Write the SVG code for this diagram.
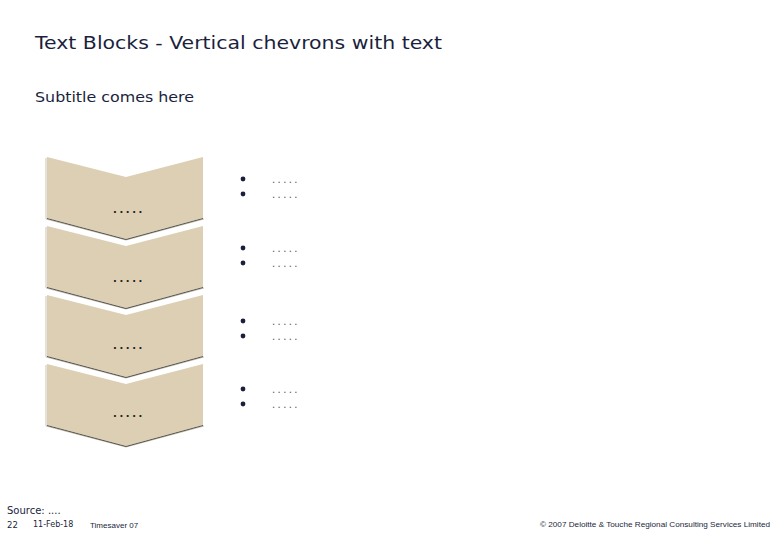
<svg xmlns="http://www.w3.org/2000/svg" width="780" height="540" viewBox="0 0 780 540">
<defs>
<style>
.title{font-family:"DejaVu Sans",Verdana,sans-serif;fill:#1b1f3d}
.chev{fill:#dccfb3}
.shadow{fill:none;stroke:#55524a;stroke-width:1}
.lbl{font-family:"DejaVu Sans",sans-serif;font-size:10px;font-weight:bold;letter-spacing:2.6px;fill:#222}
.bul{fill:#1b1f3d}
.bt{font-family:"DejaVu Sans",sans-serif;font-size:10px;letter-spacing:2.4px;fill:#555}
.foot{font-family:"DejaVu Sans",sans-serif;fill:#1b1f3d}
</style>
<path id="chevShape" d="M47,0 L126,20 L203,0 L203,61 L126,82 L47,61 Z"/>
</defs>
<rect width="780" height="540" fill="#ffffff"/>
<text class="title" x="35" y="49" font-size="18.5" textLength="407" lengthAdjust="spacingAndGlyphs">Text Blocks - Vertical chevrons with text</text>
<text class="title" x="35" y="102" font-size="14.5" textLength="159" lengthAdjust="spacingAndGlyphs">Subtitle comes here</text>

<g id="chevron1" transform="translate(0,157)">
<path d="M46,1 L46,62 L126,83 L204,62" fill="none" stroke="#c9c3b6" stroke-width="1"/>
<use href="#chevShape" class="chev"/>
<path class="shadow" d="M47,61.5 L126,82.5 L203,61.5"/>
<text class="lbl" x="113" y="56">.....</text>
</g>
<g id="chevron2" transform="translate(0,226)">
<path d="M46,1 L46,62 L126,83 L204,62" fill="none" stroke="#c9c3b6" stroke-width="1"/>
<use href="#chevShape" class="chev"/>
<path class="shadow" d="M47,61.5 L126,82.5 L203,61.5"/>
<text class="lbl" x="113" y="56">.....</text>
</g>
<g id="chevron3" transform="translate(0,295)">
<path d="M46,1 L46,62 L126,83 L204,62" fill="none" stroke="#c9c3b6" stroke-width="1"/>
<use href="#chevShape" class="chev"/>
<path class="shadow" d="M47,61.5 L126,82.5 L203,61.5"/>
<text class="lbl" x="113" y="54">.....</text>
</g>
<g id="chevron4" transform="translate(0,364)">
<path d="M46,1 L46,62 L126,83 L204,62" fill="none" stroke="#c9c3b6" stroke-width="1"/>
<use href="#chevShape" class="chev"/>
<path class="shadow" d="M47,61.5 L126,82.5 L203,61.5"/>
<text class="lbl" x="113" y="53">.....</text>
</g>

<g id="bullets1">
<circle class="bul" cx="243" cy="179" r="2.4"/><text class="bt" x="272" y="183">.....</text>
<circle class="bul" cx="243" cy="194" r="2.4"/><text class="bt" x="272" y="198">.....</text>
</g>
<g id="bullets2">
<circle class="bul" cx="243" cy="248" r="2.4"/><text class="bt" x="272" y="252">.....</text>
<circle class="bul" cx="243" cy="263" r="2.4"/><text class="bt" x="272" y="267">.....</text>
</g>
<g id="bullets3">
<circle class="bul" cx="243" cy="321" r="2.4"/><text class="bt" x="272" y="325">.....</text>
<circle class="bul" cx="243" cy="336" r="2.4"/><text class="bt" x="272" y="340">.....</text>
</g>
<g id="bullets4">
<circle class="bul" cx="243" cy="389" r="2.4"/><text class="bt" x="272" y="393">.....</text>
<circle class="bul" cx="243" cy="404" r="2.4"/><text class="bt" x="272" y="408">.....</text>
</g>

<g id="footer">
<text class="foot" x="7" y="514" font-size="10">Source: ....</text>
<text class="foot" x="7" y="528" font-size="8.5">22</text>
<text class="foot" x="33" y="527" font-size="8">11-Feb-18</text>
<text class="foot" x="90" y="528" font-size="8" style="font-family:'Liberation Sans',Arial,sans-serif">Timesaver 07</text>
<text class="foot" x="540" y="527" font-size="8" style="font-family:'Liberation Sans',Arial,sans-serif" textLength="230" lengthAdjust="spacingAndGlyphs">© 2007 Deloitte &amp; Touche Regional Consulting Services Limited</text>
</g>
</svg>
